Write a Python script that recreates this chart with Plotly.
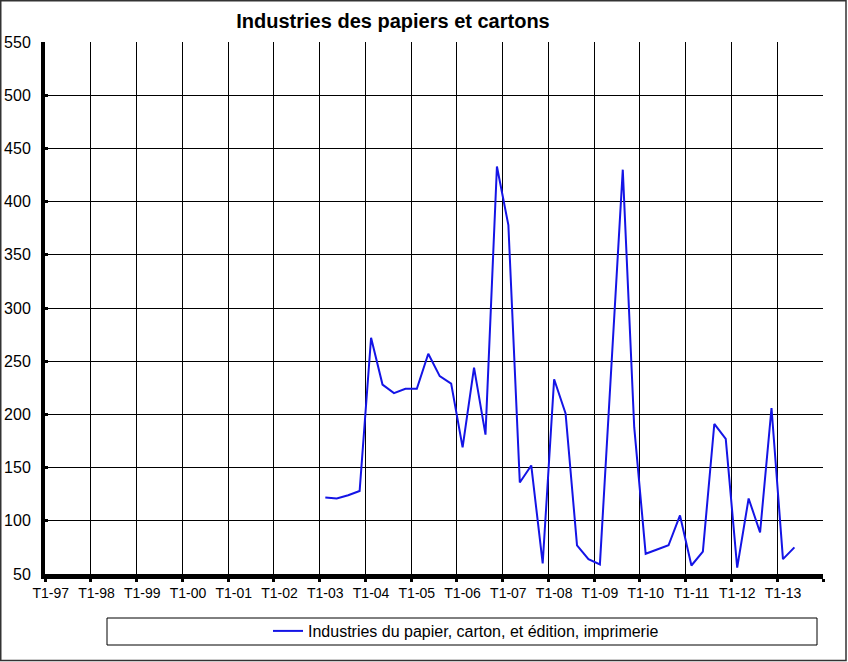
import plotly.graph_objects as go

# categories: quarters T1-97 ... T4-13
years = list(range(1997, 2014))
quarters = [f"T{q}-{y % 100:02d}" for y in years for q in range(1, 5)]

series_name = "Industries du papier, carton, et édition, imprimerie"
series_start = "T1-03"
series_values = [
    122, 121, 124, 128,   # 2003
    272, 228, 220, 224,   # 2004
    224, 257, 236, 229,   # 2005
    169, 244, 181, 433,   # 2006
    378, 136, 152, 60,    # 2007
    233, 201, 77, 64,     # 2008
    59, 246, 430, 188,    # 2009
    69, 73, 77, 105,      # 2010
    58, 71, 191, 177,     # 2011
    56, 121, 89, 206,     # 2012
    64, 75,               # 2013
]

y_ticks = list(range(50, 551, 50))

W, H = 848, 662
L, R, T, B = 45, 25, 42, 88
PW, PH = W - L - R, H - T - B

i0 = quarters.index(series_start)
x_idx = list(range(i0, i0 + len(series_values)))
label_idx = [i for i, q in enumerate(quarters) if q.startswith("T1")]
bounds = [i - 0.5 for i in label_idx] + [len(quarters) - 0.5]


def px_x(p):
    return (p - L) / PW


def px_y(p):
    return (H - B - p) / PH


FONT = "Liberation Sans, Arial, sans-serif"

fig = go.Figure()
fig.add_trace(go.Scatter(
    x=x_idx, y=series_values, name=series_name, mode="lines",
    line=dict(color="#1414e6", width=2),
    customdata=[quarters[i] for i in x_idx],
    hovertemplate="%{customdata}: %{y}<extra></extra>",
))

fig.update_xaxes(
    range=[-0.5, len(quarters) - 0.5], automargin=False,
    tickmode="array", tickvals=label_idx,
    ticktext=[quarters[i] for i in label_idx],
    ticks="", showgrid=False, zeroline=False,
    showline=True, linecolor="black", linewidth=5,
    tickfont=dict(family=FONT, size=14, color="black"),
    ticklabelstandoff=2,
    minor=dict(tickmode="array", tickvals=bounds, showgrid=True,
               gridcolor="black", gridwidth=1,
               ticks="outside", ticklen=3, tickwidth=3, tickcolor="black"),
)
fig.update_yaxes(
    range=[50, 550], automargin=False,
    tickmode="array", tickvals=y_ticks,
    showgrid=True, gridcolor="black", gridwidth=1, zeroline=False,
    showline=True, linecolor="black", linewidth=4,
    ticks="inside", ticklen=3, tickwidth=3, tickcolor="black",
    tickfont=dict(family=FONT, size=16, color="black"),
    ticklabelstandoff=7,
)

# legend frame and outer chart border
fig.add_shape(type="rect", xref="paper", yref="paper",
              x0=px_x(107), x1=px_x(817), y0=px_y(645), y1=px_y(618),
              line=dict(color="black", width=1), fillcolor="rgba(0,0,0,0)")
fig.add_shape(type="rect", xref="paper", yref="paper",
              x0=px_x(0.75), x1=px_x(846), y0=px_y(660.5), y1=px_y(0.75),
              line=dict(color="#333333", width=1.5), fillcolor="rgba(0,0,0,0)")

fig.update_layout(
    width=W, height=H,
    margin=dict(l=L, r=R, t=T, b=B, autoexpand=False),
    paper_bgcolor="white", plot_bgcolor="white",
    font=dict(family=FONT, size=14, color="black"),
    title=dict(text="<b>Industries des papiers et cartons</b>",
               x=393 / W, xanchor="center", y=1 - 21 / H, yanchor="middle",
               font=dict(family=FONT, size=20, color="black")),
    showlegend=True,
    legend=dict(x=px_x(466), xanchor="center", y=px_y(631), yanchor="middle",
                bgcolor="rgba(0,0,0,0)", borderwidth=0,
                font=dict(family=FONT, size=16, color="black")),
)

# the page's default body margin would push the figure 8px down/right
fig.write_html("out.html",
               config={"displayModeBar": False},
               post_script="document.body.style.margin='0';"
                           "document.body.style.overflow='hidden';")
